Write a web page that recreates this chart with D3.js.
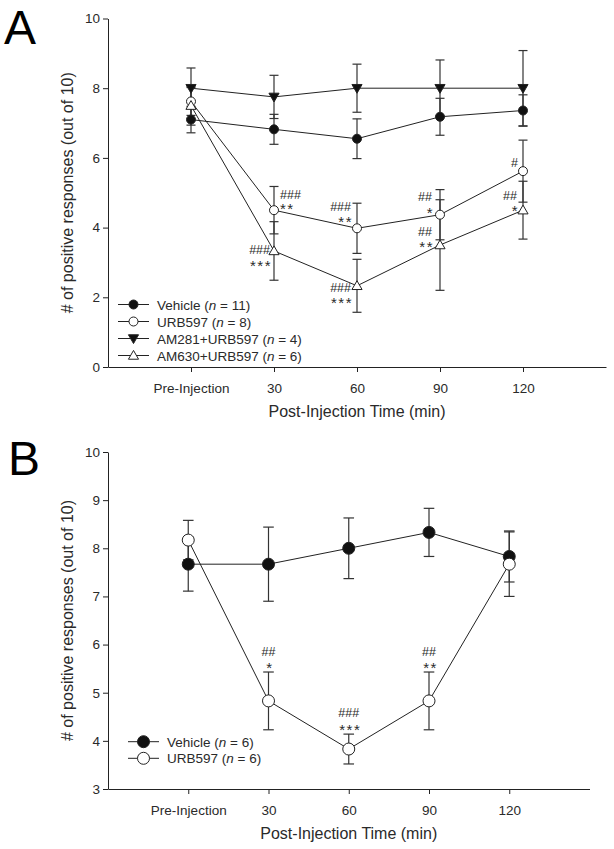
<!DOCTYPE html>
<html>
<head>
<meta charset="utf-8">
<script src="https://cdn.jsdelivr.net/npm/d3@7"></script>
<style>
  body { margin: 0; background: #fff; }
  svg text { font-family: "Liberation Sans", Arial, sans-serif; fill: #2a2a2a; }
</style>
</head>
<body>
<svg id="chart" width="614" height="849"></svg>
<script>
// x categories
const xLabels = ['Pre-Injection', '30', '60', '90', '120'];
const xTimes = [0, 30, 60, 90, 120];

// panel A values (mean, sem)
const vehicleA = [7.1, 6.82, 6.55, 7.18, 7.36];
const vehicleAErr = [0.38, 0.43, 0.57, 0.53, 0.45];
const urbA = [7.62, 4.5, 3.98, 4.37, 5.62];
const urbAErr = [0.4, 0.68, 0.72, 0.72, 0.89];
const am281A = [8.0, 7.75, 8.0, 8.0, 8.0];
const am281AErr = [0.58, 0.62, 0.69, 0.81, 1.08];
const am630A = [7.5, 3.33, 2.33, 3.5, 4.5];
const am630AErr = [0.56, 0.84, 0.76, 1.3, 0.83];

// panel B values
const vehicleB = [7.67, 7.67, 8.0, 8.33, 7.83];
const vehicleBErr = [0.56, 0.77, 0.63, 0.5, 0.53];
const urbB = [8.17, 4.83, 3.83, 4.83, 7.67];
const urbBErr = [0.41, 0.6, 0.31, 0.6, 0.67];

const yTicksA = [0, 2, 4, 6, 8, 10];
const yTicksB = [3, 4, 5, 6, 7, 8, 9, 10];

// significance marks: series index, time index, hash text, star text
const sigA = [
    {s: 1, i: 1, hash: '###', star: '**'},
    {s: 3, i: 1, hash: '###', star: '***'},
    {s: 1, i: 2, hash: '###', star: '**'},
    {s: 3, i: 2, hash: '###', star: '***'},
    {s: 1, i: 3, hash: '##', star: '*'},
    {s: 3, i: 3, hash: '##', star: '**'},
    {s: 1, i: 4, hash: '#', star: ''},
    {s: 3, i: 4, hash: '##', star: '*'}
];
const sigB = [
    {s: 1, i: 1, hash: '##', star: '*'},
    {s: 1, i: 2, hash: '###', star: '***'},
    {s: 1, i: 3, hash: '##', star: '**'}
];

const svg = d3.select('#chart');

function makeSeries(name, n, vals, errs, shape) {
    return {name, n, shape, points: vals.map((v, i) => ({t: xTimes[i], v, e: errs[i]}))};
}

const seriesA = [
    makeSeries('Vehicle', 11, vehicleA, vehicleAErr, 'dot'),
    makeSeries('URB597', 8, urbA, urbAErr, 'ring'),
    makeSeries('AM281+URB597', 4, am281A, am281AErr, 'down'),
    makeSeries('AM630+URB597', 6, am630A, am630AErr, 'up')
];
const seriesB = [
    makeSeries('Vehicle', 6, vehicleB, vehicleBErr, 'dot'),
    makeSeries('URB597', 6, urbB, urbBErr, 'ring')
];

function drawMarker(g, shape, x, y, r) {
    if (shape === 'dot' || shape === 'ring') {
        g.append('circle')
            .attr('cx', x).attr('cy', y).attr('r', r)
            .attr('fill', shape === 'dot' ? '#111' : '#fff')
            .attr('stroke', '#222').attr('stroke-width', 1);
    } else {
        const size = r * r * 2.2;
        g.append('path')
            .attr('d', d3.symbol().type(d3.symbolTriangle).size(size)())
            .attr('transform', `translate(${x},${y + (shape === 'down' ? -0.8 : 0.8)}) rotate(${shape === 'down' ? 180 : 0})`)
            .attr('fill', shape === 'down' ? '#111' : '#fff')
            .attr('stroke', '#222').attr('stroke-width', 1);
    }
}

function drawPanel(opts) {
    const {series, yDomain, yTicks, box, r, cap, letter, letterPos, legend, sig, sigPlace} = opts;

    const x = d3.scaleLinear().domain([-30, 150]).range([box.left, box.right]);
    const y = d3.scaleLinear().domain(yDomain).range([box.bottom, box.top]);

    const g = svg.append('g');

    // axes
    g.append('g')
        .attr('transform', `translate(0,${box.bottom})`)
        .call(d3.axisBottom(x).tickValues(xTimes).tickFormat((d, i) => xLabels[i]).tickSize(5).tickSizeOuter(0))
        .call(a => a.selectAll('text').attr('dy', '1.35em').style('font-size', '13.5px'));
    g.append('g')
        .attr('transform', `translate(${box.left},0)`)
        .call(d3.axisLeft(y).tickValues(yTicks).tickFormat(d3.format('d')).tickSize(5).tickSizeOuter(0))
        .call(a => a.selectAll('text').attr('x', -8).style('font-size', '13.5px'));
    g.selectAll('.domain, .tick line').attr('stroke', '#222');

    g.append('text')
        .attr('x', (box.left + box.right) / 2)
        .attr('y', box.bottom + 50)
        .attr('text-anchor', 'middle')
        .style('font-size', '16px')
        .text('Post-Injection Time (min)');
    g.append('text')
        .attr('transform', `translate(73,${(box.top + box.bottom) / 2}) rotate(-90)`)
        .attr('text-anchor', 'middle')
        .style('font-size', '16px')
        .text('# of positive responses (out of 10)');

    g.append('text')
        .attr('x', letterPos[0]).attr('y', letterPos[1])
        .style('font-size', '48px')
        .style('fill', '#000')
        .text(letter);

    const lineGen = d3.line().x(d => x(d.t)).y(d => y(d.v));

    series.forEach(s => {
        g.append('path')
            .datum(s.points)
            .attr('d', lineGen)
            .attr('fill', 'none')
            .attr('stroke', '#222')
            .attr('stroke-width', 1);
    });

    series.forEach(s => {
        const eb = g.append('g').attr('stroke', '#333').attr('stroke-width', 1.2);
        s.points.forEach(p => {
            const cx = x(p.t);
            eb.append('line').attr('x1', cx).attr('x2', cx).attr('y1', y(p.v - p.e)).attr('y2', y(p.v + p.e));
            [p.v - p.e, p.v + p.e].forEach(v => {
                eb.append('line').attr('x1', cx - cap).attr('x2', cx + cap).attr('y1', y(v)).attr('y2', y(v));
            });
        });
    });

    series.forEach(s => {
        s.points.forEach(p => drawMarker(g, s.shape, x(p.t), y(p.v), r));
    });

    // significance marks
    sig.forEach((m, k) => {
        const p = series[m.s].points[m.i];
        const pl = sigPlace[k];
        const baseY = pl.fromTop ? y(p.v + p.e) : y(p.v);
        const px = x(p.t) + pl.dx;
        g.append('text')
            .attr('x', px).attr('y', baseY + pl.dyHash + 4.5)
            .attr('text-anchor', pl.anchor)
            .style('font-size', '12.5px')
            .text(m.hash);
        if (m.star) {
            g.append('text')
                .attr('x', px + (pl.anchor === 'end' ? 2 : pl.anchor === 'start' ? 0 : 1.5)).attr('y', baseY + pl.dyStar + 9)
                .attr('text-anchor', pl.anchor)
                .style('font-size', '15px')
                .style('letter-spacing', '1.5px')
                .text(m.star);
        }
    });

    // legend
    series.forEach((s, i) => {
        const ly = legend.y + i * legend.step;
        g.append('line')
            .attr('x1', legend.x).attr('x2', legend.x + 31)
            .attr('y1', ly).attr('y2', ly)
            .attr('stroke', '#222');
        drawMarker(g, s.shape, legend.x + 15.5, ly, r);
        const t = g.append('text')
            .attr('x', legend.x + 39).attr('y', ly + 5)
            .style('font-size', '13.5px');
        t.append('tspan').text(`${s.name} (`);
        t.append('tspan').style('font-style', 'italic').text('n');
        t.append('tspan').text(` = ${s.n})`);
    });
}

drawPanel({
    series: seriesA,
    yDomain: [0, 10],
    yTicks: yTicksA,
    box: {left: 108, right: 606, top: 18.5, bottom: 367},
    r: 4.5,
    cap: 4.5,
    letter: 'A',
    letterPos: [4, 44],
    legend: {x: 118, y: 304.5, step: 17},
    sig: sigA,
    sigPlace: [
        {anchor: 'start', dx: 6, dyHash: -16, dyStar: -5},
        {anchor: 'end', dx: -4, dyHash: -1, dyStar: 11},
        {anchor: 'end', dx: -6, dyHash: -22, dyStar: -10},
        {anchor: 'end', dx: -6, dyHash: 1.5, dyStar: 13},
        {anchor: 'end', dx: -8, dyHash: -18, dyStar: -6},
        {anchor: 'end', dx: -8, dyHash: -14, dyStar: -2},
        {anchor: 'end', dx: -5, dyHash: -9, dyStar: 0},
        {anchor: 'end', dx: -6, dyHash: -14.5, dyStar: -3}
    ]
});

drawPanel({
    series: seriesB,
    yDomain: [3, 10],
    yTicks: yTicksB,
    box: {left: 108, right: 589.5, top: 452, bottom: 789},
    r: 6,
    cap: 5.3,
    letter: 'B',
    letterPos: [8, 475],
    legend: {x: 128, y: 741.7, step: 16.6},
    sig: sigB,
    sigPlace: [
        {anchor: 'middle', dx: 0, dyHash: -21, dyStar: -8, fromTop: true},
        {anchor: 'middle', dx: 0, dyHash: -21.5, dyStar: -8, fromTop: true},
        {anchor: 'middle', dx: 0, dyHash: -21, dyStar: -8, fromTop: true}
    ]
});
</script>
</body>
</html>
